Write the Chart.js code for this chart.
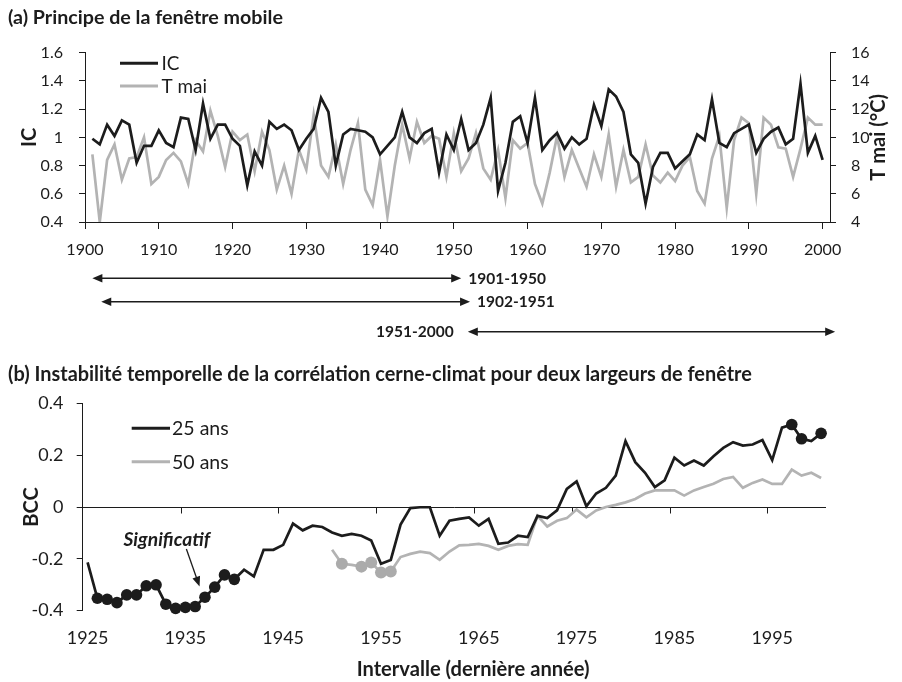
<!DOCTYPE html>
<html><head><meta charset="utf-8">
<script src="https://cdn.jsdelivr.net/npm/chart.js@4/dist/chart.umd.min.js"></script>
<style>
html,body{margin:0;padding:0;background:#fff;}
#wrap{position:relative;width:902px;height:682px;overflow:hidden;background:#fff;}
canvas{position:absolute;left:0;}
#ca{top:0;} #cb{top:345px;}
</style></head><body>
<div id="wrap"><canvas id="ca" width="902" height="345"></canvas><canvas id="cb" width="902" height="337"></canvas></div>
<script>
// ---------- Panel (a) data ----------
const yearsA = Array.from({length: 100}, (_, i) => 1901 + i);
const icValues = [
  0.99,0.95,1.09,1.01,1.12,1.09,0.82,0.94,0.94,1.05,
  0.96,0.93,1.14,1.13,0.91,1.24,0.99,1.09,1.09,0.99,
  0.94,0.66,0.90,0.80,1.11,1.06,1.09,1.05,0.91,0.99,
  1.06,1.28,1.18,0.80,1.02,1.06,1.05,1.04,1.00,0.88,
  0.94,1.00,1.18,1.00,0.96,1.03,1.06,0.75,1.02,0.91,
  1.13,0.91,0.96,1.09,1.28,0.62,0.82,1.11,1.15,0.96,
  1.28,0.91,0.98,1.03,0.92,1.00,0.95,0.99,1.23,1.08,
  1.34,1.29,1.18,0.88,0.82,0.53,0.79,0.89,0.89,0.78,
  0.83,0.88,1.02,0.98,1.27,0.96,0.93,1.03,1.06,1.09,
  0.89,0.99,1.04,1.07,0.95,0.99,1.38,0.89,1.01,0.84
];
const tMaiValues = [
  8.8,4.0,8.4,9.5,7.0,8.5,8.6,10.0,6.7,7.2,
  8.4,8.9,8.3,6.7,9.8,9.0,11.9,10.1,7.9,10.4,
  9.8,10.2,7.6,10.4,9.1,6.3,8.0,6.0,9.1,7.7,
  11.6,8.0,7.2,9.5,6.7,9.1,11.0,6.3,5.2,8.4,
  4.4,8.0,10.9,8.5,11.1,9.6,10.1,9.9,7.2,10.3,
  7.6,8.5,10.3,7.8,7.0,9.1,5.7,9.8,9.2,9.6,
  6.7,5.3,7.5,10.1,7.2,9.1,7.8,6.5,8.8,7.2,
  10.2,6.5,9.1,6.8,7.2,9.5,7.3,6.8,7.5,6.9,
  8.0,8.6,6.2,5.3,8.5,10.1,5.0,9.8,11.4,11.0,
  6.0,11.4,10.9,9.3,9.2,7.2,9.2,11.4,10.9,10.9
];
const xTicksA = [1900,1910,1920,1930,1940,1950,1960,1970,1980,1990,2000];
const icTicks = [0.4,0.6,0.8,1,1.2,1.4,1.6];
const tTicks = [4,6,8,10,12,14,16];
const windowLabels = ['1901-1950','1902-1951','1951-2000'];
const windowFrom = [1901, 1902.2, 1951.9];
const windowTo = [1951, 1952.2, 2001.7];

// ---------- Panel (b) data ----------
const years25 = Array.from({length: 76}, (_, i) => 1925 + i);
const bcc25 = [
  -0.214,-0.352,-0.356,-0.369,-0.339,-0.339,-0.304,-0.300,-0.375,-0.391,
  -0.387,-0.384,-0.348,-0.309,-0.262,-0.279,-0.242,-0.268,-0.165,-0.165,
  -0.146,-0.064,-0.090,-0.072,-0.077,-0.098,-0.111,-0.104,-0.111,-0.129,
  -0.219,-0.204,-0.068,-0.004,-0.001,-0.001,-0.111,-0.053,-0.046,-0.040,
  -0.072,-0.046,-0.142,-0.137,-0.111,-0.116,-0.034,-0.043,-0.013,0.070,
  0.099,0.003,0.052,0.074,0.121,0.254,0.173,0.132,0.077,0.103,
  0.190,0.160,0.179,0.160,0.196,0.228,0.250,0.237,0.241,0.258,
  0.181,0.306,0.318,0.263,0.254,0.284
];
const years50 = Array.from({length: 51}, (_, i) => 1950 + i);
const bcc50 = [
  -0.165,-0.219,-0.223,-0.230,-0.214,-0.253,-0.249,-0.193,-0.181,-0.172,
  -0.178,-0.204,-0.172,-0.148,-0.146,-0.142,-0.150,-0.165,-0.150,-0.143,
  -0.146,-0.034,-0.075,-0.053,-0.043,-0.010,-0.040,-0.013,0.000,0.008,
  0.018,0.031,0.052,0.064,0.064,0.064,0.044,0.064,0.077,0.090,
  0.108,0.116,0.074,0.093,0.106,0.089,0.089,0.144,0.121,0.132,
  0.112
];
const sig25Years = [1926,1927,1928,1929,1930,1931,1932,1933,1934,1935,1936,1937,1938,1939,1940,1997,1998,2000];
const sig50Years = [1951,1953,1954,1955,1956];
const xTicksB = [1925,1935,1945,1955,1965,1975,1985,1995];
const xTickMarksB = [1934.5,1944.5,1954.5,1964.5,1974.5,1984.5,1994.5];
const bccTicks = [-0.4,-0.2,0,0.2,0.4];
const sigText = 'Significatif';
const sigTextAt = [1933.1, -0.127];
const sigArrowFrom = [1935.1, -0.162];
const sigArrowTo = [1936.45, -0.307];

// ---------- styling ----------
const FAM = 'Lato, "Open Sans", sans-serif';
const INK = '#1c1c1c';
const GRAY = '#b3b3b3';
const GRAYDOT = '#ababab';
const mctx = document.createElement('canvas').getContext('2d');
function fit(text, target, weight, style) {
  mctx.font = (style || 'normal') + ' ' + (weight || 'normal') + ' 100px ' + FAM;
  return Math.round(100 * target / mctx.measureText(text).width * 100) / 100;
}
const titleA = '(a) Principe de la fenêtre mobile';
const titleB = '(b) Instabilité temporelle de la corrélation cerne-climat pour deux largeurs de fenêtre';
const xTitleB = 'Intervalle (dernière année)';
const sTitleA = fit(titleA, 275, 'bold');
const sTitleB = fit(titleB, 744, 'bold');
const sTickA = fit('1940', 37.3);
const sTickB = fit('1925', 41.7);
const sLegA = fit('T mai', 45.6);
const sLegB = fit('25 ans', 56.7);
const sArrow = fit('1901-1950', 77.7, 'bold');
const sSig = fit(sigText, 86.7, 'bold', 'italic');
const sAxisT = fit(xTitleB, 233, 'bold');
const fmt = v => String(Math.round(v * 10) / 10);
const fmtYear = v => String(Math.round(v));

function drawArrowHead(ctx, x, y, ang, L, W) {
  ctx.save(); ctx.translate(x, y); ctx.rotate(ang);
  ctx.beginPath(); ctx.moveTo(0, 0); ctx.lineTo(-L, -W / 2); ctx.lineTo(-L, W / 2); ctx.closePath(); ctx.fill();
  ctx.restore();
}
function drawLegend(ctx, chart, x1, x2, tx, ys, size) {
  ctx.save();
  ctx.font = 'normal ' + size + 'px ' + FAM;
  ctx.textBaseline = 'middle'; ctx.textAlign = 'left';
  chart.data.datasets.forEach((ds, i) => {
    ctx.strokeStyle = ds.borderColor; ctx.lineWidth = 3;
    ctx.beginPath(); ctx.moveTo(x1, ys[i]); ctx.lineTo(x2, ys[i]); ctx.stroke();
    ctx.fillStyle = INK; ctx.fillText(ds.label, tx, ys[i] + 0.5);
  });
  ctx.restore();
}

// ---------- Chart (a) ----------
const overlayA = {
  id: 'overlayA',
  afterDraw(chart) {
    const ctx = chart.ctx, ca = chart.chartArea, xs = chart.scales.x;
    drawLegend(ctx, chart, 120, 158, 161.5, [63.3, 86], sLegA);
    // right axis title
    ctx.save();
    ctx.fillStyle = INK; ctx.font = 'bold ' + sAxisT + 'px ' + FAM;
    ctx.textAlign = 'center'; ctx.textBaseline = 'middle';
    ctx.translate(879, (ca.top + ca.bottom) / 2); ctx.rotate(-Math.PI / 2);
    ctx.fillText('T mai (°C)', 0, 0);
    ctx.restore();
    // moving window arrows
    const rows = [ca.bottom + 56.3, ca.bottom + 79.7, ca.bottom + 109.7];
    ctx.save();
    ctx.strokeStyle = INK; ctx.fillStyle = INK; ctx.lineWidth = 1.5;
    ctx.font = 'bold ' + sArrow + 'px ' + FAM; ctx.textBaseline = 'middle';
    windowLabels.forEach((lab, i) => {
      const xa = xs.getPixelForValue(windowFrom[i]);
      const xb = xs.getPixelForValue(windowTo[i]);
      const y = rows[i];
      ctx.beginPath(); ctx.moveTo(xa + 5, y); ctx.lineTo(xb - 5, y); ctx.stroke();
      drawArrowHead(ctx, xa, y, Math.PI, 10, 8.5);
      drawArrowHead(ctx, xb, y, 0, 10, 8.5);
      if (i < 2) { ctx.textAlign = 'left'; ctx.fillText(lab, xb + 7, y + 0.5); }
      else { ctx.textAlign = 'right'; ctx.fillText(lab, xa - 14, y + 0.5); }
    });
    ctx.restore();
  }
};

const chartA = new Chart(document.getElementById('ca'), {
  type: 'line',
  data: {
    datasets: [
      { label: 'IC', data: yearsA.map((y, i) => ({x: y, y: icValues[i]})), yAxisID: 'y',
        borderColor: INK, borderWidth: 2.7, pointRadius: 0, tension: 0, fill: false },
      { label: 'T mai', data: yearsA.map((y, i) => ({x: y, y: tMaiValues[i]})), yAxisID: 'y2',
        borderColor: GRAY, borderWidth: 2.7, pointRadius: 0, tension: 0, fill: false }
    ]
  },
  options: {
    responsive: false, animation: false, devicePixelRatio: 1,
    layout: { padding: { left: 8, right: 0, top: 0, bottom: 0 } },
    plugins: {
      legend: { display: false }, tooltip: { enabled: false },
      title: { display: true, text: titleA, align: 'start', color: INK,
        font: { family: FAM, weight: 'bold', size: sTitleA },
        padding: { top: 18 - sTitleA * 0.6, bottom: 52.7 - (18 - sTitleA * 0.6) - sTitleA * 1.2 } }
    },
    scales: {
      x: { type: 'linear', min: 1900, max: 2001,
        afterBuildTicks: s => { s.ticks = xTicksA.map(v => ({value: v})); },
        afterFit: s => { s.height = 123; },
        grid: { drawOnChartArea: false, drawTicks: true, tickLength: 7, color: INK, lineWidth: 1 },
        border: { display: true, color: INK, width: 1 },
        ticks: { color: INK, font: { family: FAM, size: sTickA }, padding: 28 - 7 - sTickA * 0.6, maxRotation: 0, autoSkip: false, callback: v => fmtYear(v) }
      },
      y: { position: 'left', min: 0.4, max: 1.6,
        afterBuildTicks: s => { s.ticks = icTicks.map(v => ({value: v})); },
        afterFit: s => { s.width = 77; },
        grid: { drawOnChartArea: false, drawTicks: true, tickLength: 6, color: INK, lineWidth: 1 },
        border: { display: true, color: INK, width: 1 },
        ticks: { color: INK, font: { family: FAM, size: sTickA }, padding: 16, callback: v => fmt(v) },
        title: { display: true, text: 'IC', color: INK, font: { family: FAM, weight: 'bold', size: sAxisT },
          padding: { top: 30 - 8 - sAxisT * 0.6, bottom: 0 } }
      },
      y2: { position: 'right', min: 4, max: 16,
        afterBuildTicks: s => { s.ticks = tTicks.map(v => ({value: v})); },
        afterFit: s => { s.width = 72; },
        grid: { drawOnChartArea: false, drawTicks: true, tickLength: 6, color: INK, lineWidth: 1 },
        border: { display: true, color: INK, width: 1 },
        ticks: { color: INK, font: { family: FAM, size: sTickA }, padding: 15, callback: v => fmt(v) }
      }
    }
  },
  plugins: [overlayA]
});

// ---------- Chart (b) ----------
const overlayB = {
  id: 'overlayB',
  beforeDatasetsDraw(chart) {
    const ctx = chart.ctx, ca = chart.chartArea, xs = chart.scales.x, ys = chart.scales.y;
    const y0 = Math.round(ys.getPixelForValue(0)) + 0.5;
    ctx.save();
    ctx.strokeStyle = INK; ctx.lineWidth = 1;
    ctx.beginPath(); ctx.moveTo(ca.left, y0); ctx.lineTo(ca.right, y0);
    xTickMarksB.forEach(v => {
      const x = Math.round(xs.getPixelForValue(v)) + 0.5;
      ctx.moveTo(x, y0); ctx.lineTo(x, y0 + 6);
    });
    ctx.stroke();
    ctx.restore();
  },
  afterDraw(chart) {
    const ctx = chart.ctx, xs = chart.scales.x, ys = chart.scales.y;
    drawLegend(ctx, chart, 131.7, 170, 172, [83.3, 116.7], sLegB);
    ctx.save();
    ctx.fillStyle = INK; ctx.strokeStyle = INK;
    ctx.font = 'italic bold ' + sSig + 'px ' + FAM;
    ctx.textAlign = 'center'; ctx.textBaseline = 'middle';
    ctx.fillText(sigText, xs.getPixelForValue(sigTextAt[0]), ys.getPixelForValue(sigTextAt[1]));
    const ax = xs.getPixelForValue(sigArrowFrom[0]), ay = ys.getPixelForValue(sigArrowFrom[1]);
    const bx = xs.getPixelForValue(sigArrowTo[0]), by = ys.getPixelForValue(sigArrowTo[1]);
    const ang = Math.atan2(by - ay, bx - ax);
    ctx.lineWidth = 1.3;
    ctx.beginPath(); ctx.moveTo(ax, ay); ctx.lineTo(bx - 8 * Math.cos(ang), by - 8 * Math.sin(ang)); ctx.stroke();
    drawArrowHead(ctx, bx, by, ang, 10, 8);
    // x axis title
    ctx.font = 'bold ' + sAxisT + 'px ' + FAM;
    ctx.textAlign = 'left';
    ctx.fillText(xTitleB, 356.7, 325);
    ctx.restore();
  }
};

const chartB = new Chart(document.getElementById('cb'), {
  type: 'line',
  data: {
    datasets: [
      { label: '25 ans', data: years25.map((y, i) => ({x: y, y: bcc25[i]})),
        borderColor: INK, borderWidth: 2.7, tension: 0, fill: false, clip: false,
        pointRadius: c => sig25Years.includes(years25[c.dataIndex]) ? 5.8 : 0,
        pointBackgroundColor: INK, pointBorderWidth: 0, pointHoverRadius: 0 },
      { label: '50 ans', data: years50.map((y, i) => ({x: y, y: bcc50[i]})),
        borderColor: GRAY, borderWidth: 2.7, tension: 0, fill: false, clip: false,
        pointRadius: c => sig50Years.includes(years50[c.dataIndex]) ? 6 : 0,
        pointBackgroundColor: GRAYDOT, pointBorderWidth: 0, pointHoverRadius: 0 }
    ]
  },
  options: {
    responsive: false, animation: false, devicePixelRatio: 1,
    layout: { padding: { left: 8, right: 76, top: 0, bottom: 0 } },
    plugins: {
      legend: { display: false }, tooltip: { enabled: false },
      title: { display: true, text: titleB, align: 'start', color: INK,
        font: { family: FAM, weight: 'bold', size: sTitleB },
        padding: { top: 30 - sTitleB * 0.6, bottom: 58.3 - (30 - sTitleB * 0.6) - sTitleB * 1.2 } }
    },
    scales: {
      x: { type: 'linear', min: 1924.5, max: 2000.5,
        afterBuildTicks: s => { s.ticks = xTicksB.map(v => ({value: v})); },
        afterFit: s => { s.height = 71.3; },
        grid: { display: false, drawTicks: false },
        border: { display: false },
        ticks: { color: INK, font: { family: FAM, size: sTickB }, padding: 27.3 - sTickB * 0.6, maxRotation: 0, autoSkip: false, callback: v => fmtYear(v) }
      },
      y: { position: 'left', min: -0.4, max: 0.4,
        afterBuildTicks: s => { s.ticks = bccTicks.map(v => ({value: v})); },
        afterFit: s => { s.width = 74.7; },
        grid: { drawOnChartArea: false, drawTicks: true, tickLength: 6, color: INK, lineWidth: 1 },
        border: { display: true, color: INK, width: 1 },
        ticks: { color: INK, font: { family: FAM, size: sTickB }, padding: 13.4, callback: v => fmt(v) },
        title: { display: true, text: 'BCC', color: INK, font: { family: FAM, weight: 'bold', size: sAxisT },
          padding: { top: 32 - 8 - sAxisT * 0.6, bottom: 0 } }
      }
    }
  },
  plugins: [overlayB]
});
</script>
</body></html>
